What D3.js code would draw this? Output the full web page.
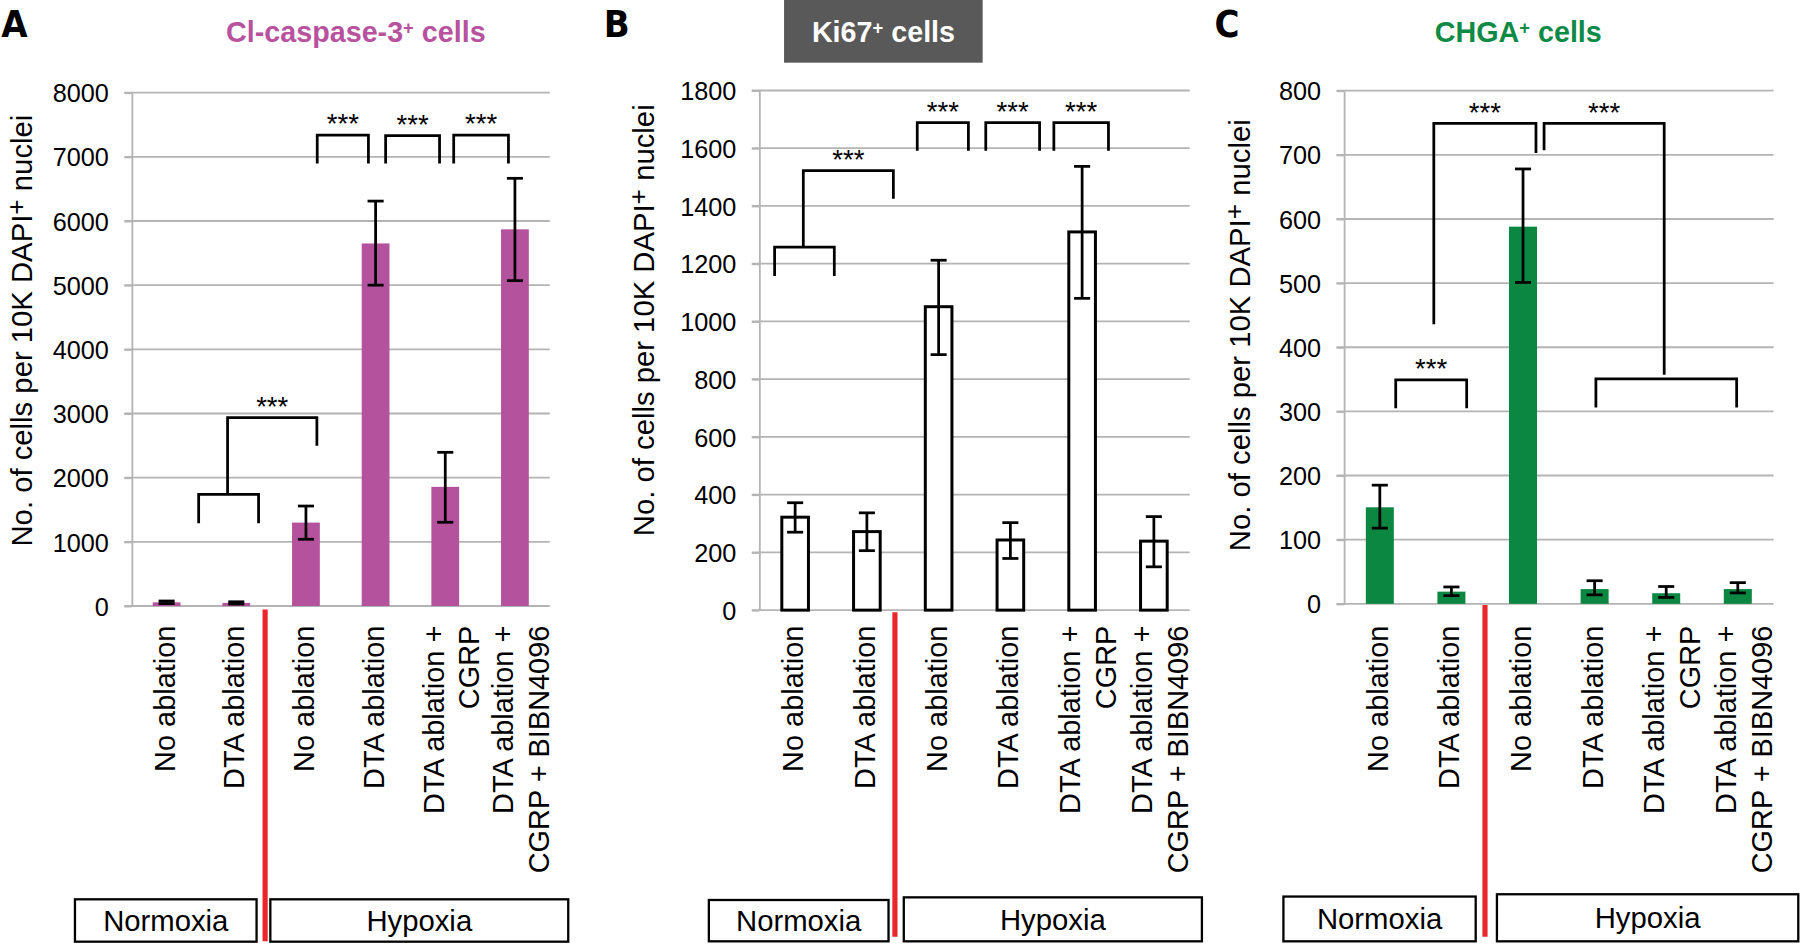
<!DOCTYPE html>
<html><head><meta charset="utf-8">
<script src="https://cdn.jsdelivr.net/npm/d3@7"></script>
<style>html,body{margin:0;padding:0;background:#fff;} svg{display:block;}</style>
</head><body>
<svg id="chart" width="1800" height="944" viewBox="0 0 1568 822.33" preserveAspectRatio="none"></svg>
<script>
// ---------------- DATA ----------------
const categories = [["No ablation"], ["DTA ablation"], ["No ablation"], ["DTA ablation"], ["DTA ablation +", "CGRP"], ["DTA ablation +", "CGRP + BIBN4096"]];
const groupLabels = ["Normoxia", "Hypoxia"];
const yAxisTitle = ["No. of cells per 10K DAPI", "+", " nuclei"];

const titleA = ["Cl-caspase-3", "+", " cells"];
const ticksA = [0, 1000, 2000, 3000, 4000, 5000, 6000, 7000, 8000];
const valuesA = [57, 48, 1300, 5650, 1857, 5870];
const errLowA = [38, 30, 1040, 5000, 1305, 5070];
const errHighA = [78, 66, 1558, 6310, 2395, 6665];
const bracketsA = [
  { pts: [[0.96, 1288], [0.96, 1741], [1.82, 1741], [1.82, 1288]], stars: "" },
  { pts: [[1.375, 1741], [1.375, 2936], [2.657, 2936], [2.657, 2499]], stars: "***" },
  { pts: [[2.662, 6897], [2.662, 7339], [3.397, 7339], [3.397, 6897]], stars: "***" },
  { pts: [[3.644, 6897], [3.644, 7330], [4.418, 7330], [4.418, 6897]], stars: "***" },
  { pts: [[4.621, 6897], [4.621, 7339], [5.407, 7339], [5.407, 6897]], stars: "***" }
];

const titleB = ["Ki67", "+", " cells"];
const ticksB = [0, 200, 400, 600, 800, 1000, 1200, 1400, 1600, 1800];
const valuesB = [322, 272, 1051, 243, 1310, 239];
const errLowB = [270, 206, 885, 179, 1080, 150];
const errHighB = [372, 337, 1212, 303, 1537, 324];
const bracketsB = [
  { pts: [[0.214, 1157], [0.214, 1257], [1.046, 1257], [1.046, 1157]], stars: "" },
  { pts: [[0.614, 1257], [0.614, 1522], [1.869, 1522], [1.869, 1425]], stars: "***" },
  { pts: [[2.202, 1591], [2.202, 1689], [2.915, 1689], [2.915, 1591]], stars: "***" },
  { pts: [[3.157, 1591], [3.157, 1689], [3.907, 1689], [3.907, 1591]], stars: "***" },
  { pts: [[4.106, 1591], [4.106, 1689], [4.867, 1689], [4.867, 1591]], stars: "***" }
];

const titleC = ["CHGA", "+", " cells"];
const ticksC = [0, 100, 200, 300, 400, 500, 600, 700, 800];
const valuesC = [150.5, 19, 588, 23, 16.5, 23];
const errLowC = [118, 12.7, 501, 14, 10, 17];
const errHighC = [185, 26.3, 678, 36, 27, 33];
const bracketsC = [
  { pts: [[0.722, 305], [0.722, 349], [1.713, 349], [1.713, 305]], stars: "***" },
  { pts: [[1.254, 436], [1.254, 749], [2.681, 749], [2.681, 703]], stars: "***" },
  { pts: [[2.794, 707], [2.794, 749], [4.472, 749], [4.472, 357]], stars: "***" },
  { pts: [[3.518, 306], [3.518, 350.6], [5.484, 350.6], [5.484, 306]], stars: "" }
];

// ---------------- LAYOUT / STYLE ----------------
const FONT = "'Liberation Sans', Arial, Helvetica, sans-serif";
const NARROW = "'Liberation Sans Narrow', 'Arial Narrow', 'DejaVu Sans Condensed', sans-serif";
const GRID = "#b4b4b4";
const RED = "#e8262b";

const panels = [
  { letter: "A", letterX: 1, title: titleA, titleX: 310, titleColor: "#b8529f", titleBox: null,
    ticks: ticksA, values: valuesA, lo: errLowA, hi: errHighA, brackets: bracketsA,
    x0: 114.8, x1: 478.9, yTop: 80.7, yZero: 527.9, barW: 24.2, fill: "#b5529e", stroke: "none", strokeW: 0,
    sep: 1.914, redTop: 531, redBottom: 820, yTitleX: 27.5, yTitleY: 288,
    boxes: [[65.3, 223.5, 783.4, 820.3], [235.5, 495, 783.4, 820.3]] },
  { letter: "B", letterX: 526, title: titleB, titleX: 769.6, titleColor: "#ffffff", titleBox: [683, 0, 173, 54.6],
    ticks: ticksB, values: valuesB, lo: errLowB, hi: errHighB, brackets: bracketsB,
    x0: 661.4, x1: 1036.4, yTop: 78.8, yZero: 531.5, barW: 23.2, fill: "#ffffff", stroke: "#000", strokeW: 2.6,
    sep: 1.891, redTop: 533.4, redBottom: 816, yTitleX: 570, yTitleY: 279,
    boxes: [[617.5, 774, 784, 820], [787.3, 1047, 781.7, 820]] },
  { letter: "C", letterX: 1058, title: titleC, titleX: 1322.6, titleColor: "#0d8a45", titleBox: null,
    ticks: ticksC, values: valuesC, lo: errLowC, hi: errHighC, brackets: bracketsC,
    x0: 1170.8, x1: 1545, yTop: 79, yZero: 526, barW: 24.4, fill: "#0b8742", stroke: "none", strokeW: 0,
    sep: 1.969, redTop: 527, redBottom: 816, yTitleX: 1089, yTitleY: 292,
    boxes: [[1118, 1285.5, 781, 820], [1304, 1566.5, 779, 820]] }
];

const svg = d3.select("#chart");

function drawPanel(p) {
  const g = svg.append("g");
  const n = categories.length;
  const x = d3.scaleLinear().domain([0, n]).range([p.x0, p.x1]);
  const y = d3.scaleLinear().domain([0, d3.max(p.ticks)]).range([p.yZero, p.yTop]);

  // panel letter
  g.append("text").attr("x", p.letterX).attr("y", 32.5)
    .attr("font-family", NARROW).attr("font-stretch", "condensed").attr("font-weight", "bold")
    .attr("font-size", 33).attr("fill", "#000").text(p.letter);

  // title
  if (p.titleBox) {
    g.append("rect").attr("x", p.titleBox[0]).attr("y", p.titleBox[1])
      .attr("width", p.titleBox[2]).attr("height", p.titleBox[3]).attr("fill", "#595959");
  }
  const tt = g.append("text").attr("x", p.titleX).attr("y", 36.3).attr("text-anchor", "middle")
    .attr("font-family", FONT).attr("font-weight", "bold").attr("font-size", 25).attr("fill", p.titleColor);
  tt.append("tspan").text(p.title[0]);
  tt.append("tspan").attr("font-size", 16).attr("dy", -7).text(p.title[1]);
  tt.append("tspan").attr("dy", 7).text(p.title[2]);

  // gridlines
  g.append("g").selectAll("line").data(p.ticks).join("line")
    .attr("x1", p.x0 - 6.5).attr("x2", p.x1)
    .attr("y1", d => y(d)).attr("y2", d => y(d))
    .attr("stroke", GRID).attr("stroke-width", 1.6);

  // y axis (labels via d3 axis)
  const ax = g.append("g").attr("transform", `translate(${p.x0},0)`)
    .call(d3.axisLeft(y).tickValues(p.ticks).tickSize(6.5).tickSizeOuter(0).tickPadding(13.5).tickFormat(d3.format("d")));
  ax.select(".domain").attr("stroke", GRID).attr("stroke-width", 1.6);
  ax.selectAll(".tick line").attr("stroke", GRID).attr("stroke-width", 1.6);
  ax.selectAll(".tick text").attr("font-family", FONT).attr("font-size", 22).attr("fill", "#000").attr("dy", "0.36em");

  // y axis title
  const yt = g.append("text").attr("transform", `translate(${p.yTitleX},${p.yTitleY}) rotate(-90)`)
    .attr("text-anchor", "middle").attr("font-family", FONT).attr("font-size", 25.5).attr("fill", "#000");
  yt.append("tspan").text(yAxisTitle[0]);
  yt.append("tspan").attr("font-size", 23).attr("dy", -6).text(yAxisTitle[1]);
  yt.append("tspan").attr("dy", 6).text(yAxisTitle[2]);

  // bars
  g.append("g").selectAll("rect").data(p.values).join("rect")
    .attr("x", (d, i) => x(i + 0.5) - p.barW / 2)
    .attr("y", d => y(d))
    .attr("width", p.barW)
    .attr("height", d => y(0) - y(d))
    .attr("fill", p.fill).attr("stroke", p.stroke).attr("stroke-width", p.strokeW);

  // error bars
  const eg = g.append("g").attr("stroke", "#000").attr("stroke-width", 2.4).attr("fill", "none");
  const cap = 7;
  p.values.forEach((v, i) => {
    const cx = x(i + 0.5);
    eg.append("line").attr("x1", cx).attr("x2", cx).attr("y1", y(p.lo[i])).attr("y2", y(p.hi[i]));
    eg.append("line").attr("x1", cx - cap).attr("x2", cx + cap).attr("y1", y(p.lo[i])).attr("y2", y(p.lo[i]));
    eg.append("line").attr("x1", cx - cap).attr("x2", cx + cap).attr("y1", y(p.hi[i])).attr("y2", y(p.hi[i]));
  });

  // significance brackets
  const line = d3.line().x(d => x(d[0])).y(d => y(d[1]));
  const bg = g.append("g");
  p.brackets.forEach(b => {
    bg.append("path").attr("d", line(b.pts)).attr("fill", "none")
      .attr("stroke", "#000").attr("stroke-width", 2.4).attr("stroke-linejoin", "miter");
    if (b.stars) {
      const mx = (x(b.pts[1][0]) + x(b.pts[2][0])) / 2;
      const my = y(b.pts[1][1]);
      bg.append("text").attr("x", mx).attr("y", my - 1.5).attr("text-anchor", "middle")
        .attr("font-family", FONT).attr("font-size", 24).attr("fill", "#000").text(b.stars);
    }
  });

  // category labels (rotated)
  categories.forEach((lines, i) => {
    const cx = x(i + 0.5);
    const tx = lines.length === 1 ? cx + 7 : cx - 1.5;
    const t = g.append("text").attr("transform", `translate(${tx},545) rotate(-90)`)
      .attr("text-anchor", "end").attr("font-family", FONT).attr("font-size", 25.2).attr("fill", "#000");
    lines.forEach((l, k) => t.append("tspan").attr("x", 0).attr("dy", k === 0 ? 0 : 31).text(l));
  });

  // separator red line
  g.append("line").attr("x1", x(p.sep)).attr("x2", x(p.sep)).attr("y1", p.redTop).attr("y2", p.redBottom)
    .attr("stroke", RED).attr("stroke-width", 4.5);

  // group boxes
  p.boxes.forEach((bx, k) => {
    g.append("rect").attr("x", bx[0]).attr("y", bx[2]).attr("width", bx[1] - bx[0]).attr("height", bx[3] - bx[2])
      .attr("fill", "none").attr("stroke", "#000").attr("stroke-width", 2);
    g.append("text").attr("x", (bx[0] + bx[1]) / 2).attr("y", (bx[2] + bx[3]) / 2 + 9.2)
      .attr("text-anchor", "middle").attr("font-family", FONT).attr("font-size", 25.5).attr("fill", "#000")
      .text(groupLabels[k]);
  });
}

panels.forEach(drawPanel);
</script>
</body></html>
